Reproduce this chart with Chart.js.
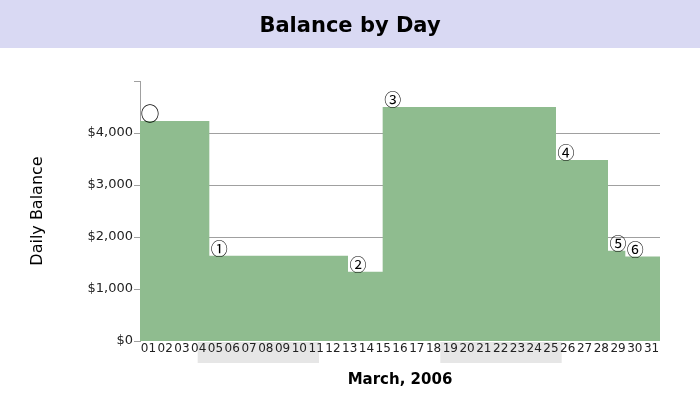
<!DOCTYPE html>
<html>
<head>
<meta charset="utf-8">
<script src="https://cdn.jsdelivr.net/npm/chart.js@4.4.1/dist/chart.umd.min.js"></script>
<style>
  html, body { margin: 0; padding: 0; background: #fff; }
  #wrap { width: 700px; height: 400px; }
</style>
</head>
<body>
<div id="wrap"><canvas id="balance-chart" width="700" height="400"></canvas></div>
<script>
// Days of March 2006 and the balance at the end of each day
const days = [1, 2, 3, 4, 5, 6, 7, 8, 9, 10, 11, 12, 13, 14, 15, 16,
  17, 18, 19, 20, 21, 22, 23, 24, 25, 26, 27, 28, 29, 30, 31];
const dayLabels = ['01', '02', '03', '04', '05', '06', '07', '08', '09', '10', '11',
  '12', '13', '14', '15', '16', '17', '18', '19', '20', '21', '22', '23', '24', '25',
  '26', '27', '28', '29', '30', '31'];
const dailyBalance = [4230, 4230, 4230, 4230, 1640, 1640, 1640, 1640, 1640, 1640, 1640,
  1640, 1330, 1330, 4500, 4500, 4500, 4500, 4500, 4500, 4500, 4500, 4500, 4500, 3480,
  3480, 3480, 1735, 1625, 1625, 1625];

// Markers where the balance changes
const markDays = [1, 5, 13, 15, 25, 28, 29];
const markSymbols = ['○', '①', '②', '③', '④', '⑤', '⑥'];

// Alternate weeks shaded behind the day labels (Sunday to Saturday)
const shadedWeekStart = [5, 19];
const shadedWeekEnd = [11, 25];

const balanceTicks = [0, 1000, 2000, 3000, 4000, 5000];

const fontFamily = '"DejaVu Sans", sans-serif';
const markFont = '"Noto Sans CJK JP", "DejaVu Sans", sans-serif';
const gridGrey = '#a0a0a0';
const fillGreen = '#8fbc8f';

Chart.defaults.font.family = fontFamily;

// Backgrounds: title band and shaded weeks
const backdrop = {
  id: 'backdrop',
  beforeDraw(c) {
    const { ctx, chartArea } = c;
    const x = c.scales.x;
    ctx.save();
    ctx.fillStyle = '#ffffff';
    ctx.fillRect(0, 0, c.width, c.height);
    ctx.fillStyle = '#d9d9f3';
    ctx.fillRect(0, 0, c.width, 48);
    ctx.fillStyle = '#e6e6e6';
    shadedWeekStart.forEach((s, i) => {
      const left = x.getPixelForValue(s - 0.5) - 3;
      const right = x.getPixelForValue(shadedWeekEnd[i] + 0.5) - 3;
      ctx.fillRect(left, chartArea.bottom + 1, right - left, 21);
    });
    ctx.restore();
  },
};

// Circled numbers sitting on each step
const stepMarks = {
  id: 'stepMarks',
  afterDraw(c) {
    const { ctx } = c;
    const x = c.scales.x;
    const y = c.scales.y;
    ctx.save();
    ctx.fillStyle = '#000';
    ctx.textAlign = 'center';
    ctx.textBaseline = 'middle';
    markDays.forEach((d, i) => {
      ctx.font = (i === 0 ? '19px ' : '17px ') + markFont;
      ctx.fillText(markSymbols[i], x.getPixelForValue(d) + 10,
        y.getPixelForValue(dailyBalance[d - 1]) - 7);
    });
    ctx.restore();
  },
};

const ctx = document.getElementById('balance-chart');

new Chart(ctx, {
  type: 'line',
  data: {
    datasets: [{
      label: 'Daily Balance',
      data: days.map((d, i) => ({ x: d, y: dailyBalance[i] })),
      stepped: 'before',
      fill: 'origin',
      backgroundColor: fillGreen,
      borderWidth: 0,
      borderColor: fillGreen,
      pointRadius: 0,
      xAxisID: 'x',
      yAxisID: 'y',
    }],
  },
  options: {
    responsive: false,
    animation: false,
    layout: {
      // equal side padding keeps the title centred on the page
      padding: { top: 0, right: 40, bottom: 0, left: 40 },
    },
    scales: {
      x: {
        type: 'linear',
        display: false,
        min: days[0],
        max: days[days.length - 1],
      },
      xLab: {
        type: 'category',
        position: 'bottom',
        labels: dayLabels,
        offset: true,
        grid: { display: false, drawTicks: false },
        border: { display: false },
        ticks: {
          autoSkip: false,
          maxRotation: 0,
          padding: 1,
          color: '#222',
          font: { size: 12 },
        },
        title: {
          display: true,
          text: 'March, 2006',
          color: '#000',
          font: { size: 15, weight: 'bold' },
          padding: { top: 0, bottom: 11 },
        },
        afterFit: (scale) => { scale.height = 59; },
      },
      y: {
        min: 0,
        max: 5000,
        z: 1,
        afterBuildTicks: (scale) => {
          scale.ticks = balanceTicks.map((v) => ({ value: v }));
        },
        border: { display: true, color: gridGrey, width: 1 },
        grid: {
          color: (c) => (c.tick && c.tick.value > 0 && c.tick.value < 5000 ? gridGrey : 'rgba(0,0,0,0)'),
          tickColor: gridGrey,
          tickLength: 6,
        },
        ticks: {
          padding: 1,
          color: '#222',
          font: { size: 13 },
          callback: (v) => (v === 5000 ? '' : '$' + v.toLocaleString('en-US')),
        },
        title: {
          display: true,
          text: 'Daily Balance',
          color: '#000',
          font: { size: 16 },
          padding: { top: -11.6, bottom: 0 },
        },
        afterFit: (scale) => { scale.width = 100; },
      },
    },
    plugins: {
      legend: { display: false },
      tooltip: { enabled: false },
      title: {
        display: true,
        text: 'Balance by Day',
        color: '#000',
        font: { size: 21, weight: 'bold' },
        padding: { top: 14, bottom: 41.8 },
      },
    },
  },
  plugins: [backdrop, stepMarks],
});
</script>
</body>
</html>
